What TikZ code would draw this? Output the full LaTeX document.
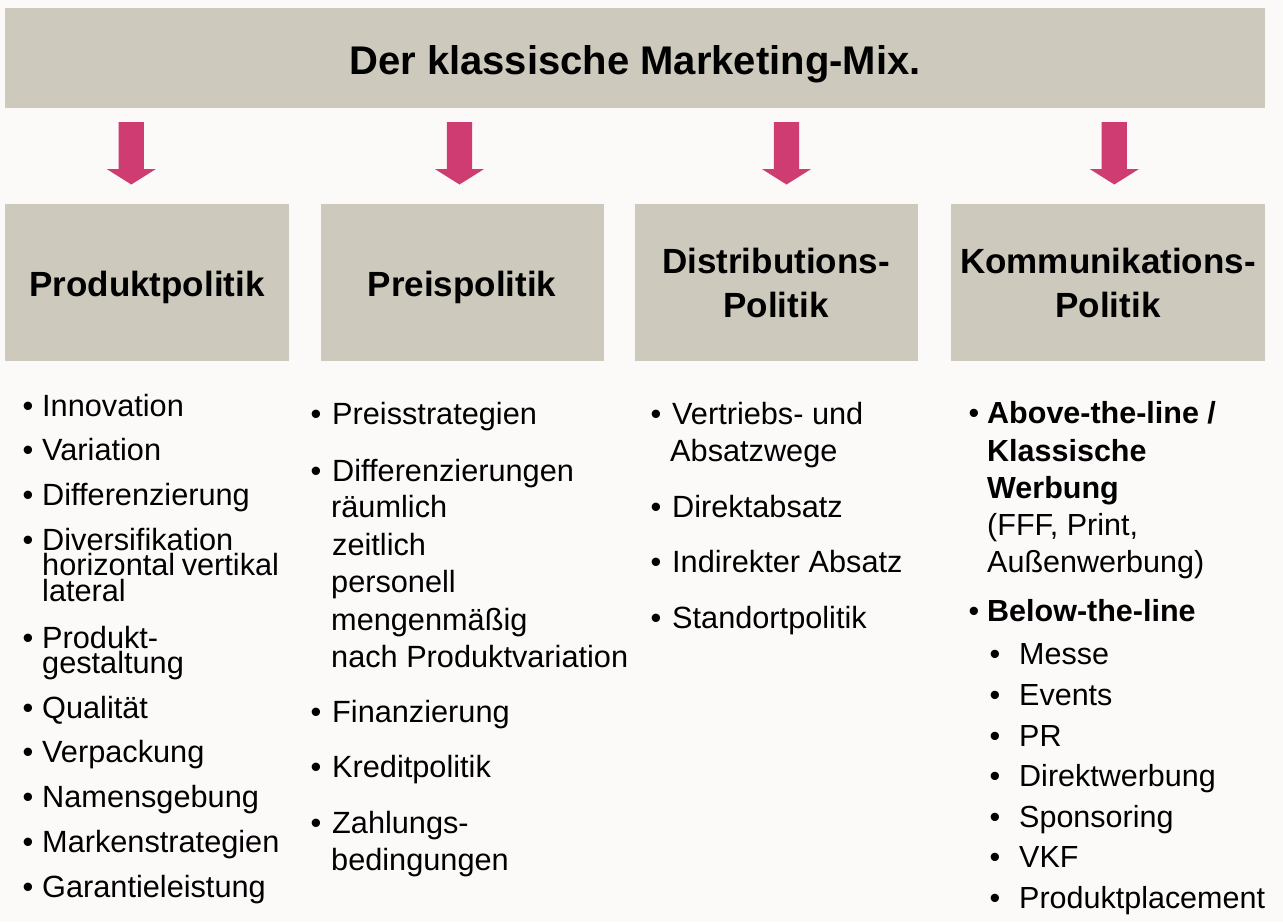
\documentclass[tikz,border=0pt]{standalone}
\usepackage{fontspec}
\setmainfont{Liberation Sans}
\definecolor{bgc}{RGB}{252,249,249}
\definecolor{boxc}{RGB}{205,201,188}
\definecolor{arrc}{RGB}{207,60,113}
\begin{document}
\begin{tikzpicture}[x=1pt,y=-1pt,
  boxn/.style={fill=boxc, draw=none, inner sep=0pt},
  ttl/.style={anchor=base, inner sep=0pt, font=\fontsize{40}{48}\selectfont\bfseries},
  head/.style={anchor=base, inner sep=0pt, font=\fontsize{35}{42}\selectfont\bfseries},
  bul/.style={anchor=base, inner sep=0pt, font=\fontsize{30.7}{36}\selectfont},
  itm/.style={anchor=base west, inner sep=0pt, font=\fontsize{30.7}{36}\selectfont},
  bulb/.style={anchor=base, inner sep=0pt, font=\fontsize{30.5}{36}\selectfont},
  itmb/.style={anchor=base west, inner sep=0pt, font=\fontsize{30.5}{36}\selectfont},
  arrowfill/.style={fill=arrc}]
\fill[bgc] (0,0) rectangle (1283,922);
\useasboundingbox (0,0) rectangle (1283,922);
% title
\node[boxn, minimum width=1260pt, minimum height=100pt] (title) at (635,58) {};
\node[ttl] (titletext) at (635,74) {Der klassische Marketing-Mix.};
% column boxes
\node[boxn, minimum width=284pt, minimum height=157pt] (box1) at (147,282.5) {};
\node[boxn, minimum width=283pt, minimum height=157pt] (box2) at (462.5,282.5) {};
\node[boxn, minimum width=283pt, minimum height=157pt] (box3) at (776.5,282.5) {};
\node[boxn, minimum width=314pt, minimum height=157pt] (box4) at (1108,282.5) {};
\node[head] (h1) at (147,296) {Produktpolitik};
\node[head] (h2) at (462,296) {Preispolitik};
\node[head] (h3a) at (776,273) {Distributions-};
\node[head] (h3b) at (776,317) {Politik};
\node[head] (h4a) at (1108,273) {Kommunikations-};
\node[head] (h4b) at (1108,317) {Politik};
% arrows
\coordinate (a1) at (131.3,122);
\coordinate (a2) at (459.5,122);
\coordinate (a3) at (786.5,122);
\coordinate (a4) at (1114.3,122);
\foreach \a in {a1,a2,a3,a4}{
  \fill[arrowfill] (\a) ++(-12.6,0) -- ++(25.2,0) -- ++(0,47) -- ++(12,0)
     -- ++(-24.6,15.5) -- ++(-24.6,-15.5) -- ++(12,0) -- cycle;
}
% column 1
\node[bul] (c1b1) at (28,416) {•}; \node[itm] (c1t1) at (42,416) {Innovation};
\node[bul] (c1b2) at (28,460) {•}; \node[itm] (c1t2) at (42,460) {Variation};
\node[bul] (c1b3) at (28,505) {•}; \node[itm] (c1t3) at (42,505) {Differenzierung};
\node[bul] (c1b4) at (28,550) {•}; \node[itm] (c1t4) at (42,550) {Diversifikation};
\node[itm] (c1t4b) at (42,575.5) {horizontal\hspace{-2pt} vertikal};
\node[itm] (c1t4c) at (42,601) {lateral};
\node[bul] (c1b5) at (28,648) {•}; \node[itm] (c1t5) at (42,648) {Produkt-};
\node[itm] (c1t5b) at (42,673.5) {gestaltung};
\node[bul] (c1b6) at (28,718) {•}; \node[itm] (c1t6) at (42,718) {Qualität};
\node[bul] (c1b7) at (28,762) {•}; \node[itm] (c1t7) at (42,762) {Verpackung};
\node[bul] (c1b8) at (28,807) {•}; \node[itm] (c1t8) at (42,807) {Namensgebung};
\node[bul] (c1b9) at (28,852) {•}; \node[itm] (c1t9) at (42,852) {Markenstrategien};
\node[bul] (c1b10) at (28,897) {•}; \node[itm] (c1t10) at (42,897) {Garantieleistung};
% column 2
\node[bul] (c2b1) at (316,424) {•}; \node[itm] (c2t1) at (332,424) {Preisstrategien};
\node[bul] (c2b2) at (316,481) {•}; \node[itm] (c2t2) at (332,481) {Differenzierungen};
\node[itm] (c2t2a) at (331,517) {räumlich};
\node[itm] (c2t2b) at (332,555) {zeitlich};
\node[itm] (c2t2c) at (331,592) {personell};
\node[itm] (c2t2d) at (331,630) {mengenmäßig};
\node[itm] (c2t2e) at (331,667) {nach Produktvariation};
\node[bul] (c2b3) at (316,722) {•}; \node[itm] (c2t3) at (332,722) {Finanzierung};
\node[bul] (c2b4) at (316,777) {•}; \node[itm] (c2t4) at (332,777) {Kreditpolitik};
\node[bul] (c2b5) at (316,833) {•}; \node[itm] (c2t5) at (332,833) {Zahlungs-};
\node[itm] (c2t5b) at (331,870) {bedingungen};
% column 3
\node[bul] (c3b1) at (656,424) {•}; \node[itm] (c3t1) at (672,424) {Vertriebs- und};
\node[itm] (c3t1b) at (670,461) {Absatzwege};
\node[bul] (c3b2) at (656,517) {•}; \node[itm] (c3t2) at (672,517) {Direktabsatz};
\node[bul] (c3b3) at (656,572) {•}; \node[itm] (c3t3) at (672,572) {Indirekter Absatz};
\node[bul] (c3b4) at (656,628) {•}; \node[itm] (c3t4) at (672,628) {Standortpolitik};
% column 4
\node[bulb] (c4b1) at (974,423) {•}; \node[itmb] (c4t1) at (987,423) {\bfseries Above-the-line /};
\node[itmb] (c4t1b) at (987,461) {\bfseries Klassische};
\node[itmb] (c4t1c) at (987,498) {\bfseries Werbung};
\node[itmb] (c4t1d) at (987,535) {(FFF, Print,};
\node[itmb] (c4t1e) at (987,572) {Außenwerbung)};
\node[bulb] (c4b2) at (974,621) {•}; \node[itmb] (c4t2) at (987,621) {\bfseries Below-the-line};
\node[bulb] (c4s1) at (995,664) {•}; \node[itmb] (c4u1) at (1019,664) {Messe};
\node[bulb] (c4s2) at (995,705) {•}; \node[itmb] (c4u2) at (1019,705) {Events};
\node[bulb] (c4s3) at (995,746) {•}; \node[itmb] (c4u3) at (1019,746) {PR};
\node[bulb] (c4s4) at (995,786) {•}; \node[itmb] (c4u4) at (1019,786) {Direktwerbung};
\node[bulb] (c4s5) at (995,827) {•}; \node[itmb] (c4u5) at (1019,827) {Sponsoring};
\node[bulb] (c4s6) at (995,867) {•}; \node[itmb] (c4u6) at (1019,867) {VKF};
\node[bulb] (c4s7) at (995,908) {•}; \node[itmb] (c4u7) at (1019,908) {Produktplacement};
\end{tikzpicture}
\end{document}
